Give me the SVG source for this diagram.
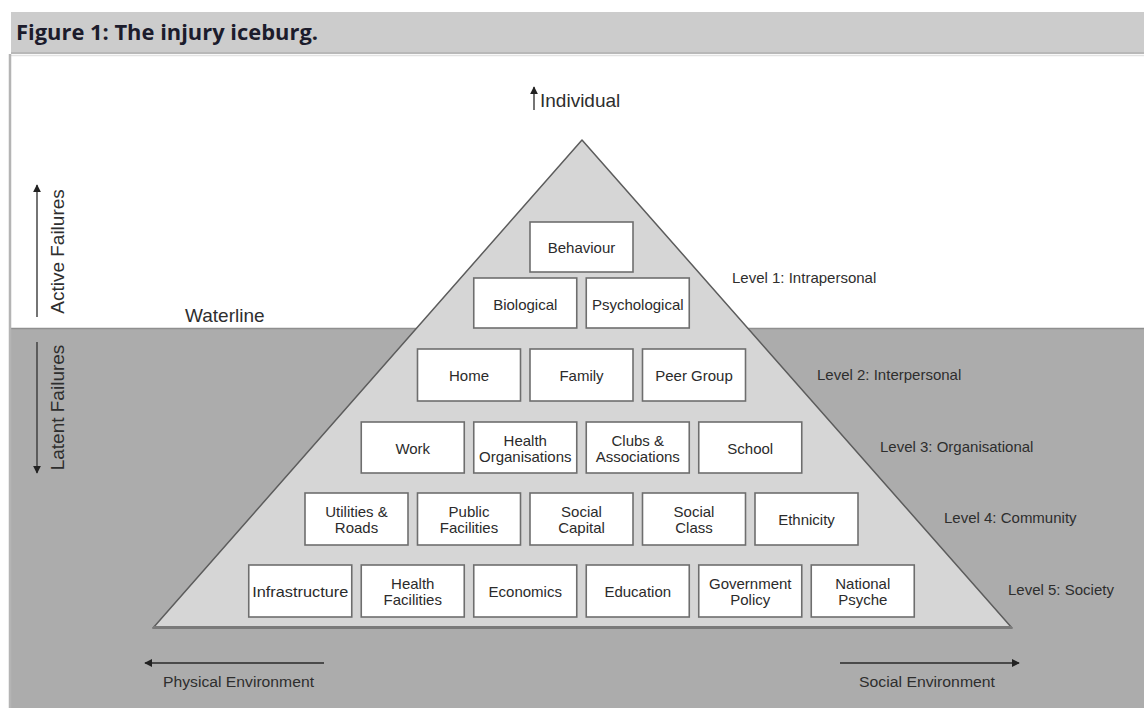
<svg xmlns="http://www.w3.org/2000/svg" width="1144" height="708" viewBox="0 0 1144 708">
  <style>
    .title { font-family: "Open Sans", "Liberation Sans", sans-serif; font-weight: 700; font-size: 21px; fill: #1c1c2c; }
    .box rect { fill: #ffffff; stroke: #6e6e6e; stroke-width: 1.6; }
    .box text { font-family: "Liberation Sans", Arial, sans-serif; font-size: 15px; fill: #2b2b2b; text-anchor: middle; }
    .lvl { font-family: "Liberation Sans", Arial, sans-serif; font-size: 15px; fill: #2e2e2e; }
    .big { font-family: "Liberation Sans", Arial, sans-serif; font-size: 19px; fill: #2e2e2e; }
    .env { font-family: "Liberation Sans", Arial, sans-serif; font-size: 15.5px; fill: #2e2e2e; }
    .arrow { stroke: #3a3a3a; stroke-width: 1.4; fill: none; }
    .arrow-thick { stroke: #4a4a4a; stroke-width: 2.2; fill: none; }
  </style>
  <defs>
    <marker id="head" viewBox="0 0 10 10" refX="9" refY="5" markerWidth="8" markerHeight="8" markerUnits="userSpaceOnUse" orient="auto">
      <path d="M0,0 L10,5 L0,10 z" fill="#222"/>
    </marker>
  </defs>

  <!-- page background -->
  <rect x="0" y="0" width="1144" height="708" fill="#ffffff"/>

  <!-- caption bar -->
  <rect x="11" y="12" width="1133" height="42" fill="#cccccc"/>
  <line x1="11" y1="53" x2="1144" y2="53" stroke="#b8b8b8" stroke-width="2"/>
  <line x1="11" y1="55.5" x2="1144" y2="55.5" stroke="#e2e2e2" stroke-width="1.5"/>
  <text class="title" x="16" y="40" textLength="302" lengthAdjust="spacingAndGlyphs">Figure 1: The injury iceburg.</text>

  <!-- below the waterline -->
  <rect x="11" y="328" width="1133" height="380" fill="#acacac"/>
  <line x1="11" y1="328.5" x2="1144" y2="328.5" stroke="#8f8f8f" stroke-width="1.5"/>

  <!-- frame left edge -->
  <line x1="10" y1="54" x2="10" y2="708" stroke="#b4b4b4" stroke-width="2.5"/>

  <!-- the iceberg -->
  <g id="pyramid">
    <polygon points="582,140 153,628 1012,628" fill="#d6d6d6" stroke="#5c5c5c" stroke-width="1.5" stroke-linejoin="round"/>
    <line x1="153" y1="627.5" x2="1012" y2="627.5" stroke="#7a7a7a" stroke-width="3"/>
  </g>

  <!-- Level 1 -->
  <g id="behaviour" class="box"><rect x="530" y="222" width="103" height="50"/><text x="581.5" y="253">Behaviour</text></g>
  <g id="biological" class="box"><rect x="473.75" y="278" width="103" height="50"/><text x="525.25" y="309.5">Biological</text></g>
  <g id="psychological" class="box"><rect x="586.25" y="278" width="103" height="50"/><text x="637.75" y="309.5">Psychological</text></g>

  <!-- Level 2 -->
  <g id="home" class="box"><rect x="417.5" y="349" width="103" height="52"/><text x="469" y="381">Home</text></g>
  <g id="family" class="box"><rect x="530" y="349" width="103" height="52"/><text x="581.5" y="381">Family</text></g>
  <g id="peer-group" class="box"><rect x="642.5" y="349" width="103" height="52"/><text x="694" y="381">Peer Group</text></g>

  <!-- Level 3 -->
  <g id="work" class="box"><rect x="361.25" y="422" width="103" height="51"/><text x="412.75" y="453.5">Work</text></g>
  <g id="health-organisations" class="box"><rect x="473.75" y="422" width="103" height="51"/><text x="525.25" y="446">Health</text><text x="525.25" y="462">Organisations</text></g>
  <g id="clubs-associations" class="box"><rect x="586.25" y="422" width="103" height="51"/><text x="637.75" y="446">Clubs &amp;</text><text x="637.75" y="462">Associations</text></g>
  <g id="school" class="box"><rect x="698.75" y="422" width="103" height="51"/><text x="750.25" y="453.5">School</text></g>

  <!-- Level 4 -->
  <g id="utilities-roads" class="box"><rect x="305" y="493" width="103" height="52"/><text x="356.5" y="516.5">Utilities &amp;</text><text x="356.5" y="533">Roads</text></g>
  <g id="public-facilities" class="box"><rect x="417.5" y="493" width="103" height="52"/><text x="469" y="516.5">Public</text><text x="469" y="533">Facilities</text></g>
  <g id="social-capital" class="box"><rect x="530" y="493" width="103" height="52"/><text x="581.5" y="516.5">Social</text><text x="581.5" y="533">Capital</text></g>
  <g id="social-class" class="box"><rect x="642.5" y="493" width="103" height="52"/><text x="694" y="516.5">Social</text><text x="694" y="533">Class</text></g>
  <g id="ethnicity" class="box"><rect x="755" y="493" width="103" height="52"/><text x="806.5" y="525">Ethnicity</text></g>

  <!-- Level 5 -->
  <g id="infrastructure" class="box"><rect x="248.75" y="565" width="103" height="52"/><text x="300.25" y="597" textLength="96" lengthAdjust="spacingAndGlyphs">Infrastructure</text></g>
  <g id="health-facilities" class="box"><rect x="361.25" y="565" width="103" height="52"/><text x="412.75" y="588.5">Health</text><text x="412.75" y="605">Facilities</text></g>
  <g id="economics" class="box"><rect x="473.75" y="565" width="103" height="52"/><text x="525.25" y="597">Economics</text></g>
  <g id="education" class="box"><rect x="586.25" y="565" width="103" height="52"/><text x="637.75" y="597">Education</text></g>
  <g id="government-policy" class="box"><rect x="698.75" y="565" width="103" height="52"/><text x="750.25" y="588.5">Government</text><text x="750.25" y="605">Policy</text></g>
  <g id="national-psyche" class="box"><rect x="811.25" y="565" width="103" height="52"/><text x="862.75" y="588.5">National</text><text x="862.75" y="605">Psyche</text></g>

  <!-- level names -->
  <g id="level-labels">
    <text class="lvl" x="732" y="283">Level 1: Intrapersonal</text>
    <text class="lvl" x="817" y="380">Level 2: Interpersonal</text>
    <text class="lvl" x="880" y="451.5">Level 3: Organisational</text>
    <text class="lvl" x="944" y="523">Level 4: Community</text>
    <text class="lvl" x="1008" y="595">Level 5: Society</text>
  </g>

  <!-- side and top labels -->
  <g id="individual"><text class="big" x="540" y="106.5">Individual</text></g>
  <g id="waterline"><text class="big" x="185" y="322">Waterline</text></g>
  <g id="active-failures"><text class="big" transform="translate(64,251.5) rotate(-90)" text-anchor="middle">Active Failures</text></g>
  <g id="latent-failures"><text class="big" transform="translate(64,407.5) rotate(-90)" text-anchor="middle">Latent Failures</text></g>
  <g id="physical-environment"><text class="env" x="163" y="687" textLength="151" lengthAdjust="spacingAndGlyphs">Physical Environment</text></g>
  <g id="social-environment"><text class="env" x="859" y="687" textLength="136" lengthAdjust="spacingAndGlyphs">Social Environment</text></g>

  <!-- arrows -->
  <g id="connectors">
    <line class="arrow" x1="534" y1="110" x2="534" y2="87" marker-end="url(#head)"/>
    <line class="arrow" x1="37" y1="317" x2="37" y2="185" marker-end="url(#head)"/>
    <line class="arrow" x1="37" y1="342" x2="37" y2="473" marker-end="url(#head)"/>
    <line class="arrow-thick" x1="324" y1="663" x2="145" y2="663" marker-end="url(#head)"/>
    <line class="arrow-thick" x1="840" y1="663" x2="1019" y2="663" marker-end="url(#head)"/>
  </g>
</svg>
